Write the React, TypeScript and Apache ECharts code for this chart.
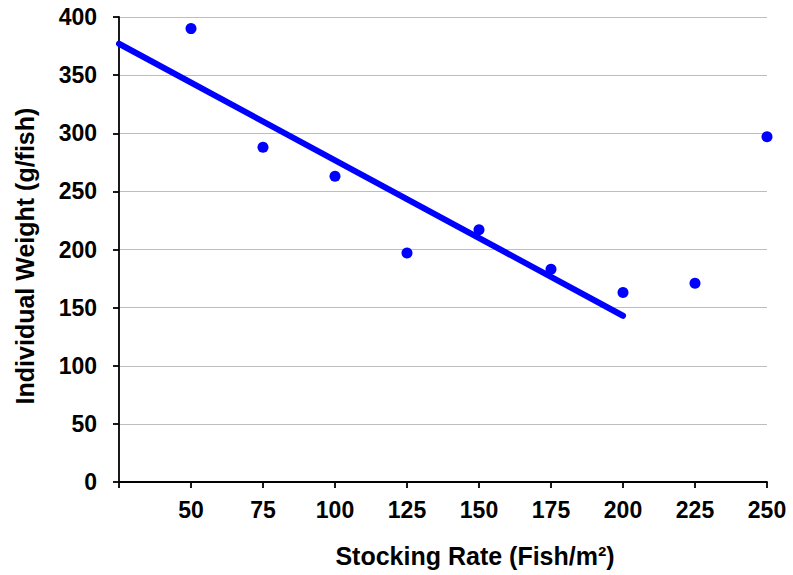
import React, { useEffect, useRef } from "react";
import * as echarts from "echarts";

// Stocking rate (fish/m²) and measured individual weight (g/fish)
const stockingRates = [50, 75, 100, 125, 150, 175, 200, 225, 250];
const weights = [390, 288, 263, 197, 217, 183, 163, 171, 297];

// Linear trend fitted over 50–200 fish/m², drawn from 25 to 200
const trendX = [25, 200];
const trendY = [377, 143];

const yTicks = [0, 50, 100, 150, 200, 250, 300, 350, 400];

const xTitle = "Stocking Rate (Fish/m²)";
const yTitle = "Individual Weight (g/fish)";

const FONT = "'Liberation Sans', Arial, sans-serif";

export default function App() {
  const ref = useRef<HTMLDivElement>(null);

  useEffect(() => {
    if (!ref.current) return;
    const chart = echarts.init(ref.current, undefined, { renderer: "svg" });
    chart.setOption({
      animation: false,
      backgroundColor: "#ffffff",
      grid: { left: 119, right: 26, top: 17, bottom: 93 },
      graphic: [
        {
          type: "text",
          x: 475,
          y: 556,
          style: {
            text: xTitle,
            fontFamily: FONT,
            fontWeight: "bold",
            fontSize: 25,
            fill: "#000",
            align: "center",
            verticalAlign: "middle",
          },
        },
        {
          type: "text",
          x: 25,
          y: 256,
          rotation: Math.PI / 2,
          style: {
            text: yTitle,
            fontFamily: FONT,
            fontWeight: "bold",
            fontSize: 25,
            fill: "#000",
            align: "center",
            verticalAlign: "middle",
          },
        },
      ],
      xAxis: {
        type: "value",
        min: 25,
        max: 250,
        interval: 25,
        axisLine: { show: true, onZero: false, lineStyle: { color: "#000", width: 1.8 } },
        axisTick: { show: true, length: 6, lineStyle: { color: "#000", width: 1.8 } },
        axisLabel: {
          margin: 16,
          fontFamily: FONT,
          fontWeight: "bold",
          fontSize: 23,
          color: "#000",
          formatter: (v: number) => (v === 25 ? "" : String(v)),
        },
        splitLine: { show: false },
      },
      yAxis: {
        type: "value",
        min: yTicks[0],
        max: yTicks[yTicks.length - 1],
        interval: 50,
        axisLine: { show: true, lineStyle: { color: "#000", width: 1.8 } },
        axisTick: { show: true, length: 6, lineStyle: { color: "#000", width: 1.8 } },
        axisLabel: {
          margin: 22,
          fontFamily: FONT,
          fontWeight: "bold",
          fontSize: 23,
          color: "#000",
        },
        splitLine: { show: true, lineStyle: { color: "#bdbdbd", width: 1 } },
      },
      series: [
        {
          type: "line",
          data: trendX.map((x, i) => [x, trendY[i]]),
          showSymbol: false,
          symbol: "none",
          lineStyle: { color: "#0000ff", width: 6, cap: "round" },
          z: 2,
        },
        {
          type: "scatter",
          data: stockingRates.map((x, i) => [x, weights[i]]),
          symbol: "circle",
          symbolSize: 11,
          itemStyle: { color: "#0000ff", opacity: 1 },
          clip: false,
          z: 3,
        },
      ],
    });
    return () => chart.dispose();
  }, []);

  return (
    <div
      ref={ref}
      style={{ position: "fixed", left: 0, top: 0, width: 793, height: 575, background: "#fff" }}
    />
  );
}
